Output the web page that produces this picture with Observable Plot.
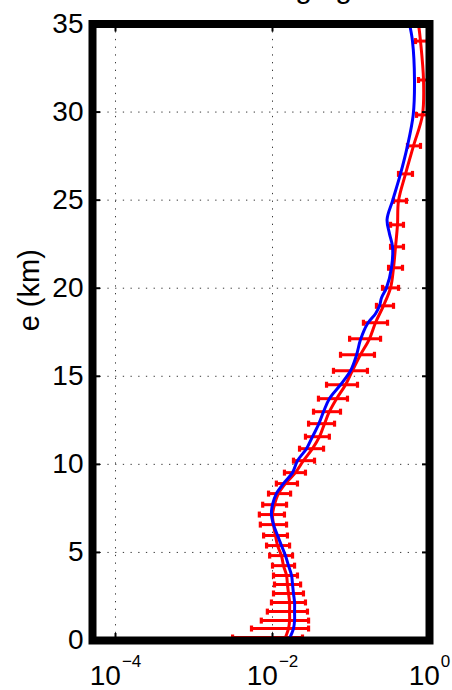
<!DOCTYPE html>
<html>
<head>
<meta charset="utf-8">
<script src="https://cdn.jsdelivr.net/npm/d3@7"></script>
<script src="https://cdn.jsdelivr.net/npm/@observablehq/plot@0.6"></script>
<style>
  html, body { margin: 0; padding: 0; background: #fff; }
  #chart { width: 452px; height: 690px; overflow: hidden; }
</style>
</head>
<body>
<div id="chart"></div>
<script>
// ---- data ----
const titleText = "Averaging";
const yLabel = "e (km)";
const xTicks = [1e-4, 1e-2, 1];
const yTicks = [0, 5, 10, 15, 20, 25, 30, 35];

// red profile with error bars
const barAlt = [0.17,0.68,1.13,1.64,2.16,2.67,3.18,3.69,4.25,4.82,5.39,5.96,6.58,7.15,7.71,8.34,8.91,9.53,10.21,10.89,11.57,12.31,12.99,13.73,14.52,15.31,16.22,17.13,18.04,19.0,20.02,21.16,22.35,23.6,24.96,26.49,28.08,29.84,31.82,34.03];
const barLo = [0.0031,0.0054,0.0072,0.0086,0.0097,0.0103,0.0106,0.0103,0.0100,0.0092,0.0084,0.0077,0.0070,0.0068,0.0075,0.0089,0.0112,0.0142,0.0185,0.0221,0.0263,0.0288,0.0333,0.0385,0.0488,0.0598,0.0735,0.096,0.144,0.211,0.252,0.301,0.319,0.319,0.348,0.403,0.524,0.683,0.724,0.663];
const barHi = [0.0241,0.0288,0.0288,0.0279,0.0263,0.0248,0.0228,0.0208,0.0191,0.0180,0.0165,0.0155,0.0151,0.0142,0.0151,0.0170,0.0208,0.0263,0.0343,0.0447,0.0530,0.0617,0.0735,0.0902,0.121,0.162,0.199,0.238,0.292,0.348,0.403,0.453,0.466,0.466,0.509,0.607,0.768,0.943,1.0,0.943];
const redAlt = [0.17,0.68,1.13,1.64,2.16,2.67,3.18,3.69,4.25,4.82,5.39,5.96,6.58,7.15,7.71,8.34,8.91,9.53,10.21,10.89,11.57,12.31,12.99,13.73,14.52,15.31,16.22,17.13,18.04,19.0,20.02,21.16,22.35,23.6,24.96,26.49,28.08,29.84,31.82,34.03,35];
const redVal = [0.0146,0.0160,0.0165,0.0165,0.0165,0.0160,0.0155,0.0151,0.0138,0.0130,0.0116,0.0109,0.0103,0.0100,0.0106,0.0119,0.0146,0.0196,0.0248,0.0323,0.0397,0.046,0.053,0.0655,0.0853,0.104,0.132,0.172,0.205,0.259,0.319,0.348,0.369,0.391,0.403,0.495,0.625,0.814,0.839,0.768,0.724];

// blue profile
const blueAlt = [0,0.68,1.13,1.64,2.16,2.67,3.18,3.69,4.25,4.82,5.39,5.96,6.58,7.15,7.71,8.34,8.91,9.53,10.21,10.89,11.57,12.25,12.99,13.73,14.52,15.31,16.17,17.07,17.98,18.55,19.0,19.46,20.02,21.16,22.35,23.1,23.9,24.96,26.49,28.08,29.84,31.82,34.03,35];
const blueVal = [0.0160,0.0185,0.0191,0.0191,0.0191,0.0185,0.0180,0.0175,0.0160,0.0146,0.0130,0.0116,0.0103,0.0097,0.0100,0.0112,0.0138,0.0180,0.0208,0.0271,0.0323,0.0385,0.0447,0.053,0.0735,0.0986,0.117,0.132,0.162,0.205,0.231,0.245,0.283,0.328,0.338,0.309,0.288,0.338,0.427,0.524,0.62,0.644,0.607,0.556];

// ---- tables built from the arrays ----
const bars = barAlt.map((a, i) => ({alt: a, lo: barLo[i], hi: barHi[i]}));
const red = redAlt.map((a, i) => ({alt: a, v: redVal[i]}));
const blue = blueAlt.map((a, i) => ({alt: a, v: blueVal[i]}));

const capSymbol = {
  draw(ctx, size) {
    const h = Math.sqrt(size / Math.PI);
    ctx.moveTo(0, -h);
    ctx.lineTo(0, h);
  }
};

const expFmt = d => { const e = Math.round(Math.log10(d)); return e < 0 ? "\u2212" + (-e) : String(e); };

const gridStyle = {stroke: "#222", strokeWidth: 1, strokeDasharray: "1.3,6.4", strokeOpacity: 0.9};

const chart = Plot.plot({
  width: 452,
  height: 690,
  marginLeft: 92,
  marginRight: 23,
  marginTop: 23.5,
  marginBottom: 50,
  style: {fontFamily: "'Liberation Sans', Arial, Helvetica, sans-serif", background: "#fff", color: "#000"},
  x: {type: "log", domain: [Math.pow(10, -4.293), 1]},
  y: {domain: [0, 35]},
  marks: [
    Plot.gridX(xTicks, gridStyle),
    Plot.gridY(yTicks, gridStyle),
    Plot.ruleY(bars, {y: "alt", x1: "lo", x2: "hi", stroke: "#ff0000", strokeWidth: 3}),
    Plot.dot(bars, {x: "lo", y: "alt", symbol: capSymbol, r: 3, stroke: "#ff0000", strokeWidth: 3.2}),
    Plot.dot(bars, {x: "hi", y: "alt", symbol: capSymbol, r: 3, stroke: "#ff0000", strokeWidth: 3.2}),
    Plot.line(red, {x: "v", y: "alt", stroke: "#ff0000", strokeWidth: 3, curve: "catmull-rom"}),
    Plot.line(blue, {x: "v", y: "alt", stroke: "#0000ff", strokeWidth: 3, curve: "catmull-rom"}),
    Plot.frame({stroke: "#000", strokeWidth: 8}),
    Plot.axisY(yTicks, {anchor: "left", tickSize: -8, fill: "none", label: null, strokeWidth: 2}),
    Plot.axisY(yTicks, {anchor: "right", tickSize: -8, fill: "none", label: null, strokeWidth: 2}),
    Plot.axisX(xTicks, {anchor: "top", tickSize: -7, fill: "none", label: null, strokeWidth: 2}),
    Plot.axisX(xTicks, {anchor: "bottom", tickSize: -7, fill: "none", label: null, strokeWidth: 2}),
    Plot.axisY(yTicks, {anchor: "left", tickSize: 0, tickPadding: 9, fontSize: 28, label: null, tickFormat: d => String(d)}),
    Plot.axisX(xTicks, {anchor: "bottom", tickSize: 0, tickPadding: 25, fontSize: 28, label: null, tickFormat: expFmt}),
    Plot.text([yLabel], {frameAnchor: "left", dx: -62.5, dy: -42, rotate: -90, textAnchor: "middle", fontSize: 29}),
    Plot.text([titleText], {frameAnchor: "top-left", dx: 125, dy: -26.5, lineAnchor: "bottom", textAnchor: "start", fontSize: 30})
  ]
});

// turn exponent labels into 10^e with a raised superscript
d3.select(chart).selectAll('g[aria-label="x-axis tick label"] text').each(function() {
  const t = d3.select(this);
  const e = t.text();
  t.text(null);
  t.append("tspan").text("10");
  t.append("tspan").attr("font-size", 17).attr("dy", -18).attr("dx", 1).text(e);
});

document.getElementById("chart").appendChild(chart);
</script>
</body>
</html>
